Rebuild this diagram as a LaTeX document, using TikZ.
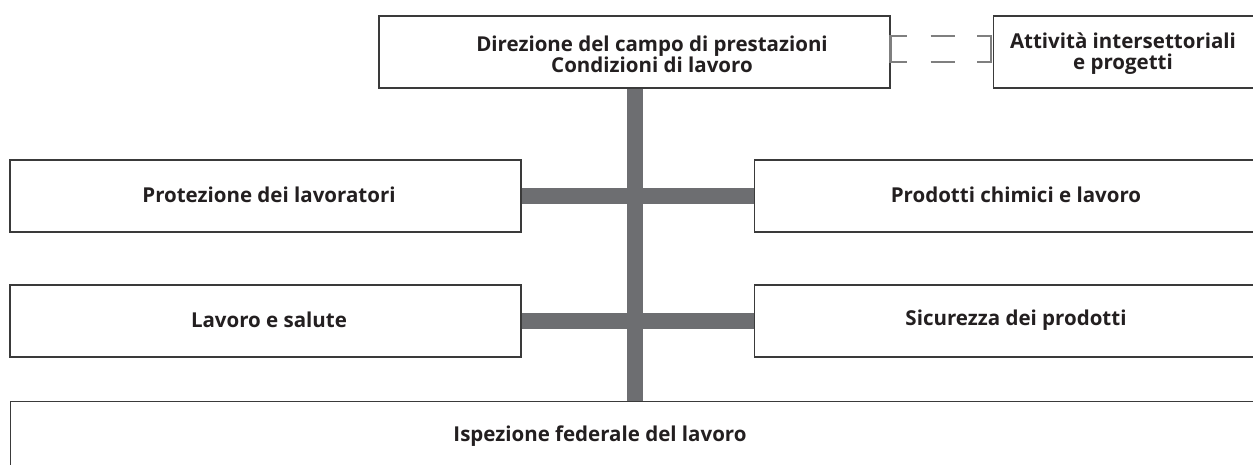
\documentclass[tikz,border=0pt]{standalone}
\usepackage{fontspec}
\setmainfont{Open Sans}
\definecolor{bargray}{HTML}{6D6E71}
\definecolor{edge}{HTML}{3A3A3A}
\definecolor{dashgray}{HTML}{7F7F7F}
\definecolor{ink}{HTML}{231F20}
\tikzset{
  box/.style={draw=edge, line width=1.4pt, fill=white, rectangle, inner sep=0pt},
  txt/.style={font=\fontsize{20.5}{21}\selectfont\bfseries, text=ink, align=center, inner sep=0pt},
  bar/.style={draw=bargray, line width=16pt},
  link/.style={draw=dashgray, line width=2.8pt},
}
\begin{document}
\begin{tikzpicture}[x=1pt,y=1pt]
\useasboundingbox (0,0) rectangle (1253,-464);
\clip (0,0) rectangle (1253,-464);
% boxes
\node[box, minimum width=511pt, minimum height=72pt] (top) at (634.5,-52) {};
\node[box, minimum width=300pt, minimum height=72pt, anchor=west] (ai) at (993,-52) {};
\node[box, minimum width=511pt, minimum height=72pt] (pl) at (265.5,-196) {};
\node[box, minimum width=524pt, minimum height=72pt, anchor=west] (pc) at (754,-196) {};
\node[box, minimum width=511pt, minimum height=72pt] (ls) at (265.5,-321) {};
\node[box, minimum width=524pt, minimum height=72pt, anchor=west] (sp) at (754,-321) {};
\node[box, minimum width=1300pt, minimum height=80pt, anchor=north west] (ifl) at (10,-401) {};
% bars
\coordinate (vt) at (top.south);
\coordinate (vb) at (ifl.north -| top.south);
\draw[bar] (vt) -- (vb);
\draw[bar] (pl.east) -- (pc.west);
\draw[bar] (ls.east) -- (sp.west);
\draw[box, fill=none] (top.south west) rectangle (top.north east);
% dashed link
\draw[link] ([shift={(16,16)}]top.east) -- ([shift={(0,16)}]top.east) -- ([shift={(0,-10)}]top.east) -- ([shift={(16,-10)}]top.east);
\draw[link] ([shift={(40,16)}]top.east) -- ([shift={(64,16)}]top.east);
\draw[link] ([shift={(40,-10)}]top.east) -- ([shift={(64,-10)}]top.east);
\draw[link] ([shift={(-16,16)}]ai.west) -- ([shift={(-2,16)}]ai.west) -- ([shift={(-2,-10)}]ai.west) -- ([shift={(-16,-10)}]ai.west);
% texts
\node[txt] (ttop) at (652,-54) {Direzione del campo di prestazioni\\Condizioni di lavoro};
\node[txt] (tai) at (1123,-54) {Attività intersettoriali\\e progetti};
\node[txt] (tpl) at (269,-195) {Protezione dei lavoratori};
\node[txt] (tpc) at (1016,-195) {Prodotti chimici e lavoro};
\node[txt] (tls) at (269,-320) {Lavoro e salute};
\node[txt] (tsp) at (1016,-320) {Sicurezza dei prodotti};
\node[txt] (tifl) at (600,-436) {Ispezione federale del lavoro};
\end{tikzpicture}
\end{document}
